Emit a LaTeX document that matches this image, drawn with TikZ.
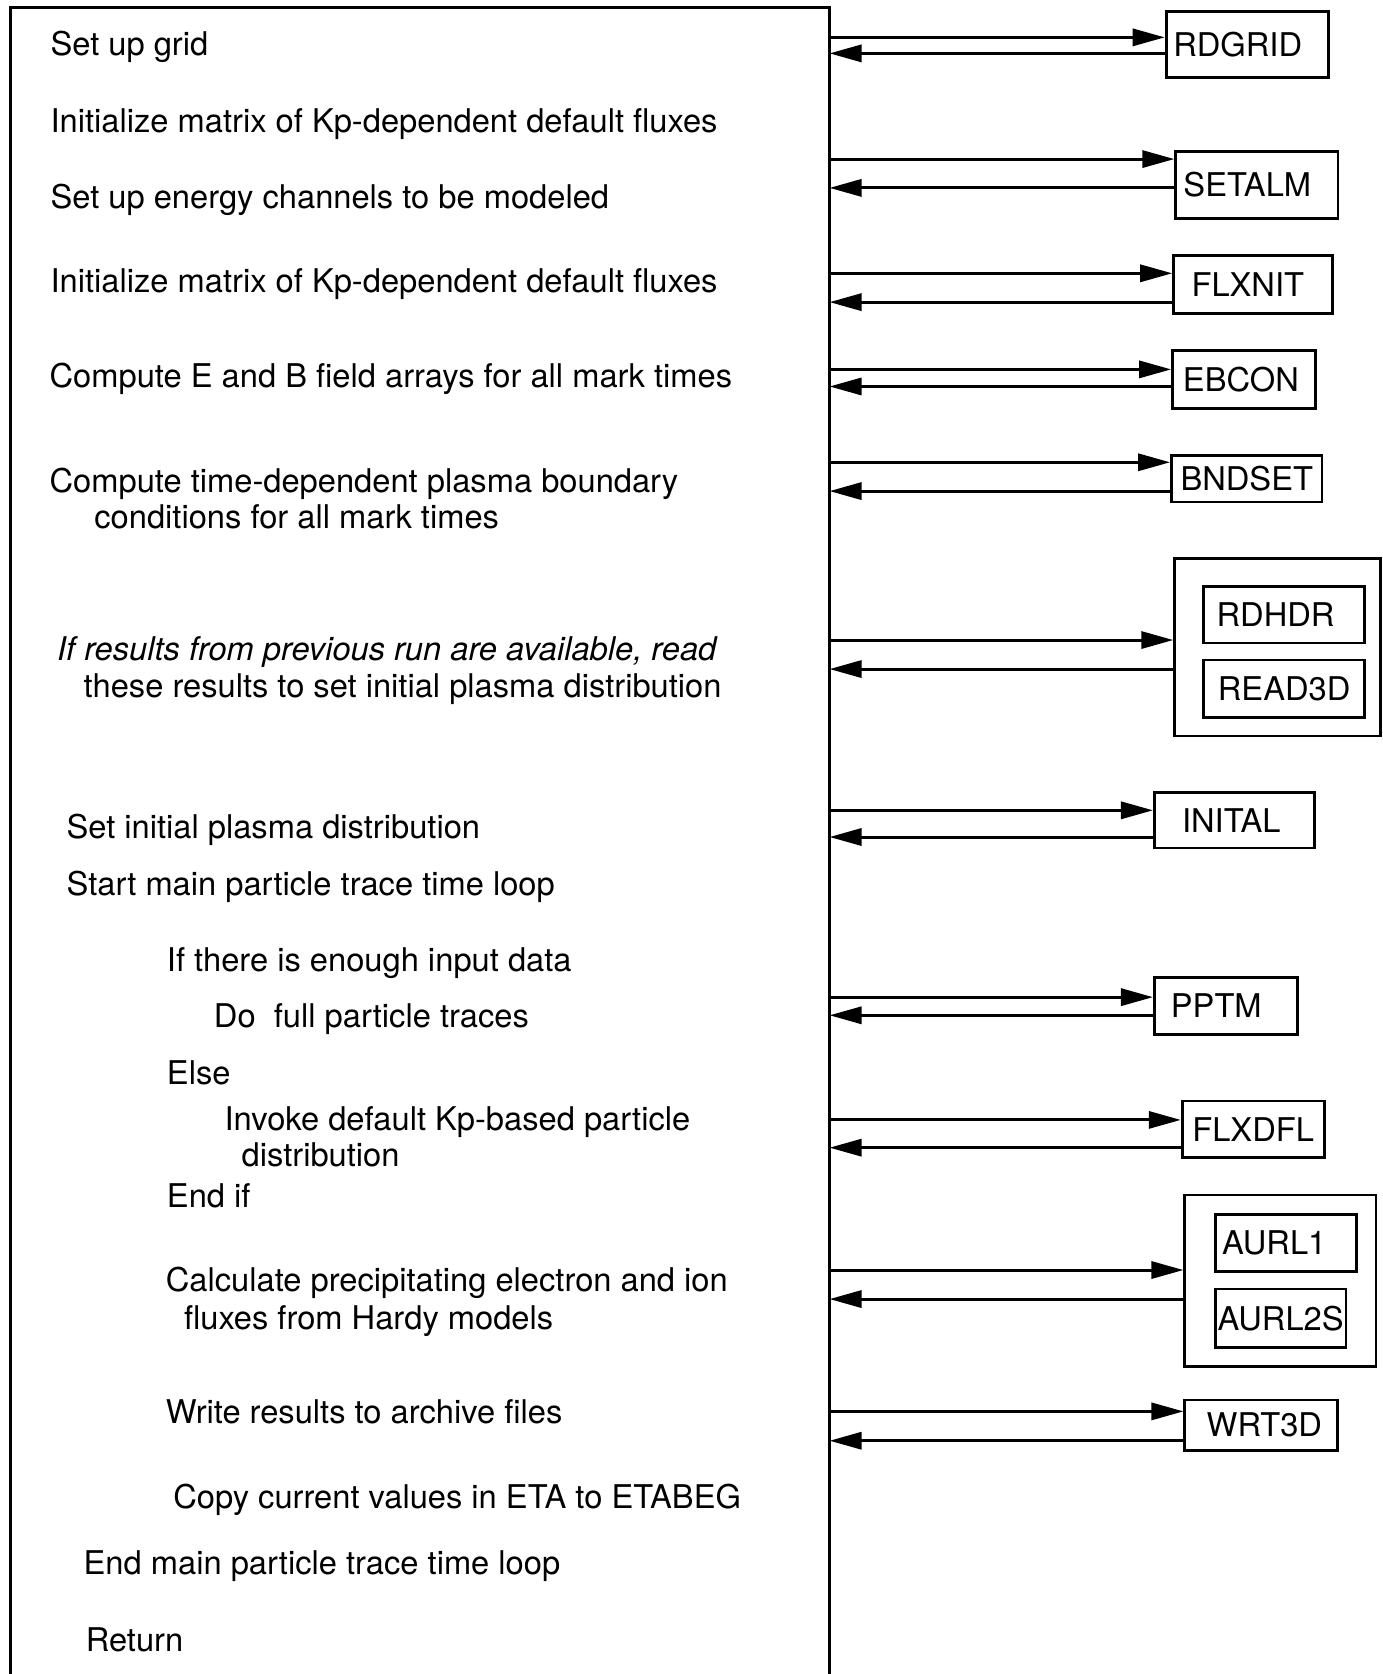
\documentclass[tikz,border=0pt]{standalone}
\usepackage{fontspec}
\setmainfont{TeX Gyre Heros}
\usetikzlibrary{arrows.meta}
\begin{document}
\begin{tikzpicture}[x=0.5pt,y=-0.5pt,
  txt/.style={anchor=base west, inner sep=0pt, font=\fontsize{15.3}{18}\selectfont},
  sub/.style={draw, line width=1.3pt, inner sep=0pt, anchor=north west, font=\fontsize{15.3}{18}\selectfont},
  lshift/.style={execute at end node={\kern#1pt}},
  arr/.style={line width=1.4pt, -{Triangle[length=15pt,width=8pt]}},
  frame/.style={line width=1.4pt}]
\useasboundingbox (0,0) rectangle (1294.5,1568);
% main frame (open at the bottom)
\draw[frame] (10,1600) -- (10,7) -- (777,7) -- (777,1600);
% left texts
\node[txt] (t1) at (47,52) {Set up grid};
\node[txt] (t2) at (47,124) {Initialize matrix of Kp-dependent default fluxes};
\node[txt] (t3) at (47,195) {Set up energy channels to be modeled};
\node[txt] (t4) at (47,274) {Initialize matrix of Kp-dependent default fluxes};
\node[txt] (t5) at (46,363) {Compute E and B field arrays for all mark times};
\node[txt] (t6a) at (46,461) {Compute time-dependent plasma boundary};
\node[txt] (t6b) at (88,495) {conditions for all mark times};
\node[txt] (t7a) at (53,619) {\itshape If results from previous run are available, read};
\node[txt] (t7b) at (78,653) {these results to set initial plasma distribution};
\node[txt] (t8) at (62,785) {Set initial plasma distribution};
\node[txt] (t9) at (62,839) {Start main particle trace time loop};
\node[txt] (t10) at (156,910) {If there is enough input data};
\node[txt] (t11) at (200,962) {Do\ \ full particle traces};
\node[txt] (t12) at (156,1016) {Else};
\node[txt] (t13a) at (210,1059) {Invoke default Kp-based particle};
\node[txt] (t13b) at (226,1093) {distribution};
\node[txt] (t14) at (156,1131) {End if};
\node[txt] (t15a) at (155,1210) {Calculate precipitating electron and ion};
\node[txt] (t15b) at (172,1245) {fluxes from Hardy models};
\node[txt] (t16) at (155,1333) {Write results to archive files};
\node[txt] (t17) at (162,1413) {Copy current values in ETA to ETABEG};
\node[txt] (t18) at (78,1475) {End main particle trace time loop};
\node[txt] (t19) at (80,1547) {Return};
% right boxes
\node[sub, lshift=9, minimum width=76pt, minimum height=30.75pt] (rdgrid) at (1091,9.5) {RDGRID};
\node[sub, lshift=9, minimum width=76pt, minimum height=31.5pt] (setalm) at (1100,140.5) {SETALM};
\node[sub, lshift=5, minimum width=74.5pt, minimum height=27pt] (flxnit) at (1098,238) {FLXNIT};
\node[sub, lshift=3, minimum width=67pt, minimum height=27pt] (ebcon) at (1097,327) {EBCON};
\node[sub, minimum width=70.5pt, minimum height=22pt] (bndset) at (1096,425) {BNDSET};
\node[sub, minimum width=96.5pt, minimum height=83pt] (g1) at (1099,522) {};
\node[sub, lshift=8, minimum width=75.5pt, minimum height=26.5pt] (rdhdr) at (1126,548) {RDHDR};
\node[sub, minimum width=75.5pt, minimum height=27pt] (read3d) at (1126,617) {READ3D};
\node[sub, lshift=3, minimum width=75pt, minimum height=26pt] (inital) at (1080,741) {INITAL};
\node[sub, lshift=9, minimum width=67pt, minimum height=27pt] (pptm) at (1080,914) {PPTM};
\node[sub, minimum width=66.5pt, minimum height=26.5pt] (flxdfl) at (1106,1030) {FLXDFL};
\node[sub, minimum width=89.5pt, minimum height=80.25pt] (g2) at (1108.5,1118) {};
\node[sub, lshift=11, minimum width=66.25pt, minimum height=26.75pt] (aurl1) at (1137,1136) {AURL1};
\node[sub, minimum width=61.25pt, minimum height=27.5pt] (aurl2s) at (1137,1206) {AURL2S};
\node[sub, minimum width=71.5pt, minimum height=23.5pt] (wrt3d) at (1108.5,1310) {\kern3pt WRT3D};
% connectors
\foreach \b/\ya/\yb in {rdgrid/35/50, setalm/149/176, flxnit/256/283, ebcon/346/362,
  bndset/433/460, g1/599.5/626.7, inital/759/784, pptm/934/951, flxdfl/1049/1075,
  g2/1189.6/1216.8, wrt3d/1322/1349.5}{
  \coordinate (out-\b) at (777,\ya);
  \coordinate (in-\b) at (777,\yb);
  \draw[arr] (out-\b) -- (out-\b -| \b.west);
  \draw[arr] (in-\b -| \b.west) -- (in-\b);
}
\end{tikzpicture}
\end{document}
